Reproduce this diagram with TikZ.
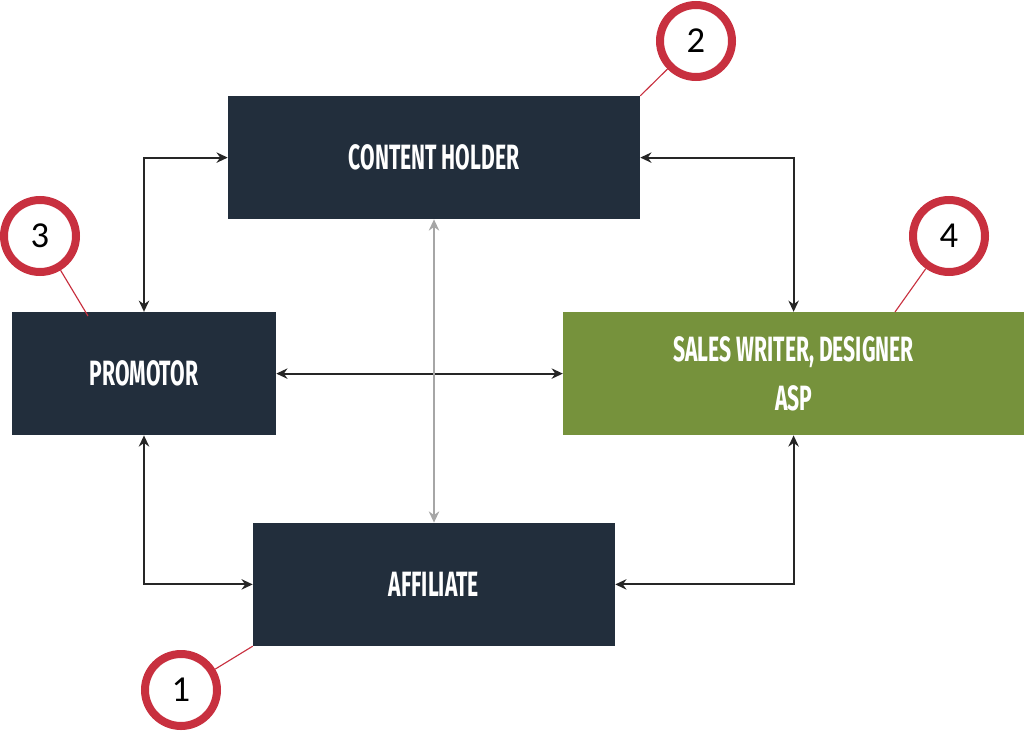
\documentclass[tikz,border=0pt]{standalone}
\usepackage{fontspec}
\usetikzlibrary{arrows.meta, positioning, calc}
\newfontfamily\boxfont[FakeStretch=0.6]{Fira Sans}
\newfontfamily\numfont{Carlito}
\definecolor{navy}{HTML}{222E3C}
\definecolor{olive}{HTML}{76923C}
\definecolor{ringred}{HTML}{C8303F}
\definecolor{lgray}{HTML}{A6A6A6}
\definecolor{dkline}{HTML}{262626}

\tikzset{
  role/.style={fill=navy, text=white, font=\boxfont\bfseries\fontsize{25}{35}\selectfont,
    minimum height=3.075cm, inner sep=0pt, align=center},
  marker/.style={circle, draw=ringred, line width=0.2cm, minimum size=1.8cm,
    fill=white, text=black, font=\numfont\fontsize{26}{26}\selectfont},
  link/.style={dkline, line width=1.4pt, {Stealth[length=2.8mm, width=2.6mm]}-{Stealth[length=2.8mm, width=2.6mm]}},
  pin/.style={ringred, line width=0.8pt}
}

\begin{document}
\begin{tikzpicture}

\useasboundingbox (0,0) rectangle (25.6,-18.3);

% Boxes
\node[role, minimum width=10.3cm] (content) at (10.85,-3.94) {CONTENT HOLDER};
\node[role, minimum width=6.6cm] (promotor) at (3.6,-9.34) {PROMOTOR};
\node[role, fill=olive, minimum width=11.525cm] (sales) at (19.84,-9.34)
  {SALES WRITER, DESIGNER\\ASP};
\node[role, minimum width=9.05cm] (affiliate) at (10.85,-14.61) {AFFILIATE};

% Connectors
\draw[link] (promotor.north) |- (content.west);
\draw[link] (content.east) -| (sales.north);
\draw[link] (promotor.east) -- (sales.west);
\draw[link, lgray] (content.south) -- (affiliate.north);
\draw[link] (promotor.south) |- (affiliate.west);
\draw[link] (sales.south) |- (affiliate.east);

% Numbered markers
\coordinate (tip3) at (2.2,-7.9);
\coordinate (tip4) at (22.375,-7.8);

\node[marker] (m2) at (17.4,-1.025) {2};
\node[marker] (m3) at (1.0,-5.9) {3};
\node[marker] (m4) at (23.725,-5.9) {4};
\node[marker] (m1) at (4.525,-17.25) {1};

\draw[pin] (content.north east) -- (m2);
\draw[pin] (tip3) -- (m3);
\draw[pin] (tip4) -- (m4);
\draw[pin] (affiliate.south west) -- (m1);

\end{tikzpicture}
\end{document}
